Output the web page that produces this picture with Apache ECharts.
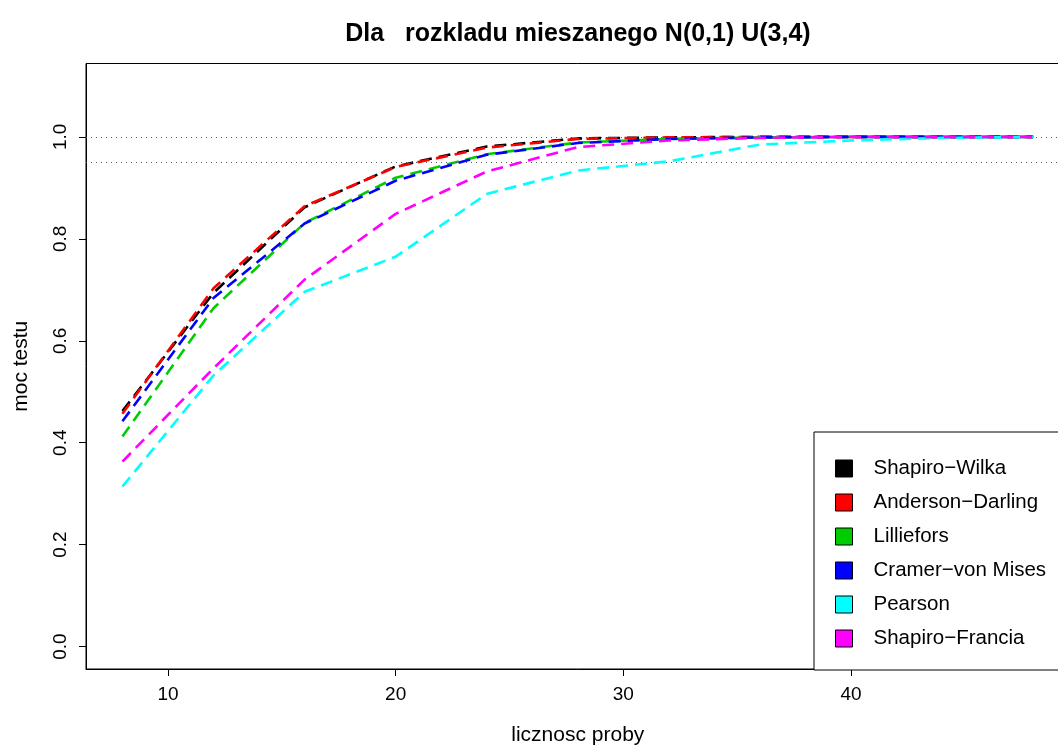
<!DOCTYPE html>
<html>
<head>
<meta charset="utf-8">
<script src="https://cdn.jsdelivr.net/npm/echarts@6/dist/echarts.min.js"></script>
<style>html,body{margin:0;padding:0;background:#fff;overflow:hidden;width:1058px;height:745px;}#c{width:1100px;height:745px;}</style>
</head>
<body>
<div id="c"></div>
<script>
const sampleSizes = [8, 12, 16, 20, 24, 28, 32, 36, 40, 44, 48];
const shapiroWilk   = [0.462, 0.694, 0.862, 0.942, 0.981, 0.997, 0.999, 1.000, 1.000, 1.000, 1.000];
const andersonDarl  = [0.457, 0.703, 0.864, 0.941, 0.979, 0.996, 0.999, 1.000, 1.000, 1.000, 1.000];
const lilliefors    = [0.412, 0.664, 0.831, 0.920, 0.966, 0.989, 0.996, 0.999, 1.000, 1.000, 1.000];
const cramerVonMis  = [0.442, 0.684, 0.830, 0.914, 0.965, 0.988, 0.996, 0.999, 1.000, 1.000, 1.000];
const pearson       = [0.314, 0.532, 0.696, 0.765, 0.888, 0.934, 0.952, 0.985, 0.993, 0.998, 1.000];
const shapiroFranc  = [0.363, 0.546, 0.720, 0.849, 0.932, 0.980, 0.993, 0.998, 1.000, 1.000, 1.000];
const seriesNames = ['Shapiro\u2212Wilka', 'Anderson\u2212Darling', 'Lilliefors', 'Cramer\u2212von Mises', 'Pearson', 'Shapiro\u2212Francia'];
const seriesColors = ['#000000', '#FF0000', '#00CD00', '#0000FF', '#00FFFF', '#FF00FF'];
const seriesValues = [shapiroWilk, andersonDarl, lilliefors, cramerVonMis, pearson, shapiroFranc];
const xTicks = [10, 20, 30, 40];
const yTicks = [0, 0.2, 0.4, 0.6, 0.8, 1.0];
const refLines = [1.0, 0.95];

const font = 'Liberation Sans, Arial, Helvetica, sans-serif';
const chart = echarts.init(document.getElementById('c'), null, {renderer: 'canvas'});

const series = seriesNames.map((name, i) => ({
  name: name,
  type: 'line',
  data: sampleSizes.map((x, j) => [x, seriesValues[i][j]]),
  symbol: 'none',
  color: seriesColors[i],
  lineStyle: {color: seriesColors[i], width: 2.6, type: [12, 7]},
  z: 2 + i,
  animation: false
}));
series[0].markLine = {
  silent: true,
  symbol: 'none',
  label: {show: false},
  lineStyle: {color: '#555', width: 1, type: [1, 4]},
  data: refLines.map(v => ({yAxis: v})),
  animation: false
};

chart.setOption({
  animation: false,
  backgroundColor: '#fff',
  title: {
    text: 'Dla   rozkladu mieszanego N(0,1) U(3,4)',
    left: 573, top: 17, textAlign: 'center',
    textStyle: {fontFamily: font, fontSize: 25, fontWeight: 'bold', color: '#000'}
  },
  grid: {left: 86, top: 63.5, right: 30.4, bottom: 76, containLabel: false, outerBoundsMode: 'none',
    show: true, borderColor: '#000', borderWidth: 1, backgroundColor: 'transparent'},
  legend: {
    orient: 'vertical', left: 814, top: 432,
    icon: 'rect', itemWidth: 17, itemHeight: 17, itemGap: 13,
    padding: [26, 60, 21, 21],
    borderColor: '#000', borderWidth: 1, backgroundColor: '#fff',
    textStyle: {fontFamily: font, fontSize: 20.5, color: '#000', padding: [0, 0, 0, 16]},
    itemStyle: {borderColor: '#000', borderWidth: 1},
    data: seriesNames.map((n, i) => ({name: n, itemStyle: {color: seriesColors[i], borderColor: '#000', borderWidth: 1}}))
  },
  xAxis: {
    type: 'value', min: 6.4, max: 49.6,
    name: 'licznosc proby', nameLocation: 'middle', nameGap: 56,
    nameTextStyle: {fontFamily: font, fontSize: 21, color: '#000'},
    axisLine: {show: true, onZero: false, lineStyle: {color: '#000', width: 1}},
    splitLine: {show: false},
    axisTick: {show: true, inside: false, customValues: xTicks, length: 7, lineStyle: {color: '#000', width: 1}},
    axisLabel: {customValues: xTicks, margin: 16, fontFamily: font, fontSize: 19, color: '#000'}
  },
  yAxis: {
    type: 'value', min: -0.044, max: 1.144,
    name: 'moc testu', nameLocation: 'middle', nameGap: 54,
    nameTextStyle: {fontFamily: font, fontSize: 21, color: '#000'},
    axisLine: {show: true, onZero: false, lineStyle: {color: '#000', width: 1}},
    splitLine: {show: false},
    axisTick: {show: true, inside: false, customValues: yTicks, length: 7, lineStyle: {color: '#000', width: 1}},
    axisLabel: {customValues: yTicks, rotate: 90, margin: 16, fontFamily: font, fontSize: 19, color: '#000',
      formatter: v => v.toFixed(1)}
  },
  series: series
});
</script>
</body>
</html>
